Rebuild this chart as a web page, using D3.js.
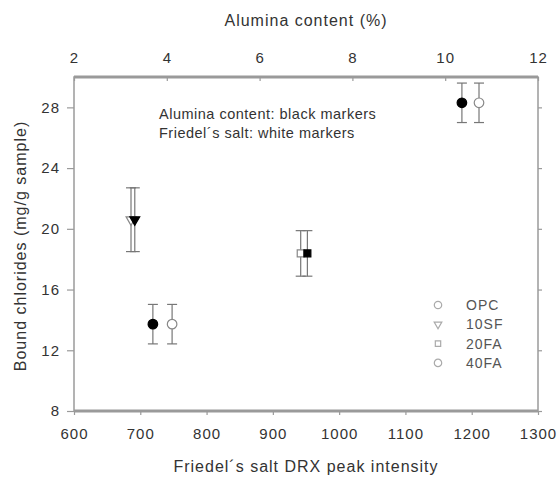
<!DOCTYPE html>
<html><head><meta charset="utf-8">
<script src="https://cdn.jsdelivr.net/npm/d3@7"></script>
<style>body{margin:0;background:#fff}svg{display:block;font-family:"Liberation Sans",Arial,sans-serif}</style>
</head><body><svg id="c" width="558" height="478"></svg>
<script>
const samples = ["OPC","10SF","20FA","40FA"];
const symbols = ["circle","triangle","square","circle"];
const alumina = [3.70, 3.31, 7.03, 10.36];
const friedel = [748, 686, 942, 1211];
const bound = [13.72, 20.6, 18.38, 28.3];
const boundErr = [1.3, 2.1, 1.5, 1.3];
const xTicks = [600,700,800,900,1000,1100,1200,1300];
const topTicks = [2,4,6,8,10,12];
const yTicks = [8,12,16,20,24,28];

const svg = d3.select("#c");
const L=74, R=538, T=77, B=411;
const x = d3.scaleLinear().domain([600,1300]).range([L,R]);
const xt = d3.scaleLinear().domain([2,12]).range([L,R]);
const y = d3.scaleLinear().domain([8,30]).range([B,T]);
const axisCol="#9a9a9a", txtCol="#333";

// frame
svg.append("rect").attr("x",L).attr("y",T).attr("width",R-L).attr("height",B-T)
  .attr("fill","none").attr("stroke",axisCol).attr("stroke-width",1.5);
svg.append("line").attr("x1",L).attr("x2",R).attr("y1",B).attr("y2",B).attr("stroke",axisCol).attr("stroke-width",3);
svg.append("line").attr("x1",L).attr("x2",R).attr("y1",T).attr("y2",T).attr("stroke",axisCol).attr("stroke-width",3);

function styleAxis(g){
  g.select(".domain").remove();
  g.selectAll(".tick line").attr("stroke",axisCol).attr("stroke-width",1.2);
  g.selectAll(".tick text").attr("fill",txtCol).style("font-size","15px").style("letter-spacing","1px");
}
svg.append("g").attr("transform",`translate(0,${B})`)
  .call(d3.axisBottom(x).tickValues(xTicks).tickSize(4).tickPadding(13).tickFormat(d3.format("d"))).call(styleAxis);
svg.append("g").attr("transform",`translate(0,${T})`)
  .call(d3.axisTop(xt).tickValues(topTicks).tickSizeInner(-4).tickSizeOuter(0).tickPadding(14)).call(styleAxis);
svg.append("g").attr("transform",`translate(${L},0)`)
  .call(d3.axisLeft(y).tickValues(yTicks).tickSize(7).tickPadding(7)).call(styleAxis);
svg.append("g").attr("transform",`translate(${R},0)`)
  .call(d3.axisRight(y).tickValues(yTicks).tickSize(4).tickFormat("")).call(styleAxis);

// titles
const titleStyle = s => s.attr("fill",txtCol).style("font-size","16px").style("letter-spacing","1px");
svg.append("text").attr("x",(L+R)/2).attr("y",25.5).attr("text-anchor","middle")
  .call(titleStyle).text("Alumina content (%)");
svg.append("text").attr("x",(L+R)/2).attr("y",472).attr("text-anchor","middle")
  .call(titleStyle).text("Friedel´s salt DRX peak intensity");
svg.append("text").attr("transform",`translate(26,246) rotate(-90)`).attr("text-anchor","middle")
  .call(titleStyle).text("Bound chlorides (mg/g sample)");

// annotation
const annStyle = s => s.attr("fill",txtCol).style("font-size","14.5px").style("letter-spacing","0.5px");
svg.append("text").attr("x",159).attr("y",119).call(annStyle).text("Alumina content: black markers");
svg.append("text").attr("x",159).attr("y",138).call(annStyle).text("Friedel´s salt: white markers");

const symMap={circle:d3.symbolCircle,triangle:d3.symbolTriangle,square:d3.symbolSquare};
function marker(g,type,cx,cy,fill,stroke,size){
  const s=d3.symbol().type(symMap[type]).size(size);
  g.append("path").attr("d",s()).attr("transform",`translate(${cx},${cy})${type==="triangle"?" rotate(180)":""}`)
    .attr("fill",fill).attr("stroke",stroke).attr("stroke-width",1.2);
}
function errbar(g,cx,v,e){
  const col="#777";
  g.append("line").attr("x1",cx).attr("x2",cx).attr("y1",y(v+e)).attr("y2",y(v-e)).attr("stroke",col).attr("stroke-width",1.2);
  [v+e,v-e].forEach(t=>g.append("line").attr("x1",cx-5).attr("x2",cx+5).attr("y1",y(t)).attr("y2",y(t)).attr("stroke",col).attr("stroke-width",1.2));
}
const sizes = {circle:72, triangle:42, square:48};
const g=svg.append("g");
samples.forEach((s,i)=>{
  errbar(g,x(friedel[i]),bound[i],boundErr[i]);
  errbar(g,xt(alumina[i]),bound[i],boundErr[i]);
});
samples.forEach((s,i)=>{
  marker(g,symbols[i],x(friedel[i]),y(bound[i]),"#fff","#888",sizes[symbols[i]]);
  marker(g,symbols[i],xt(alumina[i]),y(bound[i]),"#000","#000",sizes[symbols[i]]);
});

// legend
const lg=svg.append("g");
samples.forEach((s,i)=>{
  const ly=305+i*19.3;
  marker(lg,symbols[i],438,ly,"#fff","#aaa",sizes[symbols[i]]*0.6);
  lg.append("text").attr("x",466).attr("y",ly+5).attr("fill","#555")
    .style("font-size","14px").style("letter-spacing","1px").text(s);
});
</script></body></html>
